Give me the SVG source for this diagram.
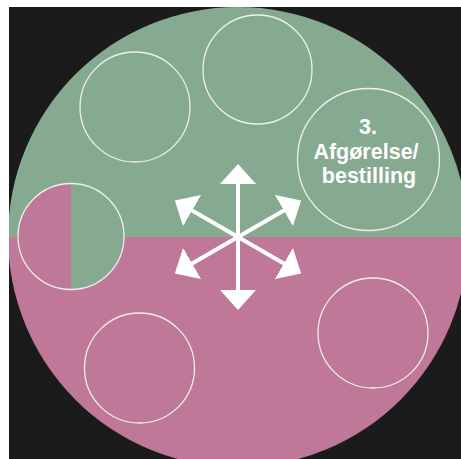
<svg xmlns="http://www.w3.org/2000/svg" width="461" height="459" viewBox="0 0 461 459">
<defs>
<style>
.ring{fill:none;stroke:#eeeeee;stroke-width:1.3}
.lbl{font-family:"Liberation Sans",Arial,sans-serif;font-weight:bold;font-size:21.5px;fill:#ffffff;text-anchor:middle}
.arr{stroke:#ffffff;stroke-width:4;fill:none}
</style>
<clipPath id="box"><rect x="9" y="7" width="452" height="452"/></clipPath>
<clipPath id="top"><rect x="0" y="0" width="461" height="237"/></clipPath>
<clipPath id="bot"><rect x="0" y="237" width="461" height="222"/></clipPath>
<marker id="head" viewBox="0 0 20 36" refX="8" refY="18" markerWidth="20" markerHeight="36" markerUnits="userSpaceOnUse" orient="auto">
<path d="M0,0 L20,18 L0,36 Z" fill="#ffffff"/>
</marker>
</defs>
<rect x="0" y="0" width="461" height="459" fill="#ffffff"/>
<rect x="9" y="7" width="452" height="452" fill="#1b1b1b"/>
<g id="wheel" clip-path="url(#box)">
<circle cx="238" cy="237" r="230" fill="#85aa8f" clip-path="url(#top)"/>
<circle cx="238" cy="237" r="230" fill="#bf7898" clip-path="url(#bot)"/>
</g>
<g id="node-top">
<circle class="ring" cx="257.5" cy="69.5" r="54.5"/>
</g>
<g id="node-topleft">
<circle class="ring" cx="135" cy="107" r="55"/>
</g>
<g id="node-3">
<circle class="ring" cx="368.5" cy="159.5" r="71"/>
<text class="lbl" x="368" y="134">3.</text>
<text class="lbl" x="366" y="159">Afgørelse/</text>
<text class="lbl" x="369" y="183">bestilling</text>
</g>
<g id="node-left">
<path d="M71,183.5 A53,53 0 0 0 71,289.5 Z" fill="#bf7898"/>
<path d="M71,183.5 A53,53 0 0 1 71,289.5 Z" fill="#85aa8f"/>
<circle class="ring" cx="71" cy="236.5" r="53"/>
</g>
<g id="node-bottomleft">
<circle class="ring" cx="139.5" cy="368" r="55"/>
</g>
<g id="node-bottomright">
<circle class="ring" cx="373" cy="333" r="55"/>
</g>
<g id="connectors">
<line class="arr" x1="238" y1="237" x2="238" y2="176" marker-end="url(#head)"/>
<line class="arr" x1="238" y1="237" x2="238" y2="298" marker-end="url(#head)"/>
<line class="arr" x1="238" y1="237" x2="290.8" y2="206.5" marker-end="url(#head)"/>
<line class="arr" x1="238" y1="237" x2="290.8" y2="267.5" marker-end="url(#head)"/>
<line class="arr" x1="238" y1="237" x2="185.2" y2="206.5" marker-end="url(#head)"/>
<line class="arr" x1="238" y1="237" x2="185.2" y2="267.5" marker-end="url(#head)"/>
</g>
</svg>
